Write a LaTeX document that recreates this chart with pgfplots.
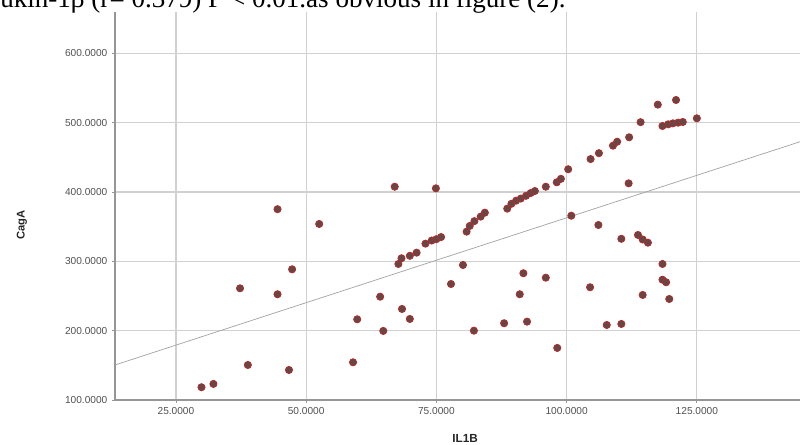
\documentclass[border=0pt]{standalone}
\usepackage{fontspec}
\setmainfont{Liberation Sans}
\newfontfamily\timesfont{Liberation Serif}
\usepackage{pgfplots}
\pgfplotsset{compat=1.18}
\definecolor{gridc}{RGB}{208,208,208}
\definecolor{axc}{RGB}{150,150,150}
\definecolor{regc}{RGB}{165,165,165}
\definecolor{tickc}{RGB}{80,80,80}
\definecolor{mfill}{RGB}{105,70,70}
\definecolor{medge}{RGB}{175,45,45}
\begin{document}
\begin{tikzpicture}
\useasboundingbox (0pt,0pt) rectangle (600pt,333pt);
\node[anchor=base west, inner sep=0pt, font=\timesfont\fontsize{20.3}{24}\selectfont] at (0pt,327.4pt) {ukin-1β (r= 0.379) P < 0.01.as obvious in figure (2).};
\begin{axis}[
  at={(86.25pt,33pt)}, anchor=south west,
  scale only axis, width=513.75pt, height=291pt,
  xmin=13.3, xmax=144.8, ymin=100, ymax=659.6,
  axis lines=left,
  axis line style={-, draw=axc, line width=0.9pt},
  every outer x axis line/.append style={-},
  every outer y axis line/.append style={-},
  xtick={25,50,75,100,125},
  ytick={100,200,300,400,500,600},
  grid=major,
  major grid style={draw=gridc, line width=0.9pt},
  tick align=outside,
  major tick length=2.2pt,
  tick style={draw=axc, line width=0.6pt},
  /pgf/number format/.cd, fixed, fixed zerofill, precision=4, 1000 sep={}, assume math mode=true,
  /pgfplots/.cd,
  tick label style={font=\fontsize{7.6}{9}\selectfont, text=tickc},
  xlabel={\textbf{IL1B}},
  ylabel={\textbf{CagA}},
  xlabel style={font=\fontsize{8.8}{10}\selectfont, text=black!85, at={(axis description cs:0.511,0)}, anchor=north, yshift=-22pt},
  ylabel style={font=\fontsize{8.4}{10}\selectfont, text=black!85, at={(axis description cs:-0.1358,0.451)}, anchor=center},
  clip=false,
]
\addplot[regc, line width=0.55pt] coordinates {(13.3,150.5) (144.8,472.5)};
\addplot[only marks, mark=*, mark size=2.7pt, mark options={draw=medge, fill=mfill, line width=0.6pt}] coordinates {
(29.9,118.4) (32.2,123.2) (37.3,261.1) (38.8,150.5) (44.5,375.2) (44.5,252.5)
(46.7,143.3) (47.3,288.5) (52.5,353.9) (59.0,154.4) (59.8,216.4) (64.2,249.0)
(64.8,199.6) (67.0,407.6) (68.4,231.3) (69.9,216.9) (74.9,405.3) (77.8,267.3)
(80.1,294.7) (82.2,200.0) (88.0,210.7) (91.0,252.5) (91.7,282.8) (92.4,213.0)
(96.0,276.4) (98.2,175.1) (100.9,365.8) (104.5,262.6) (106.1,352.4) (107.7,208.2)
(110.5,209.7) (110.5,332.5) (111.9,412.5) (113.7,338.0) (114.6,331.5) (115.6,326.9)
(114.6,251.5) (118.4,296.2) (118.4,273.5) (119.1,269.8) (119.7,245.7)
(67.7,296.2) (68.3,304.4) (69.9,308.0) (71.2,312.5) (72.9,325.5) (74.1,330.0)
(75.0,332.0) (75.9,335.0) (80.8,342.8) (81.4,351.0) (82.3,358.0) (83.5,364.5)
(84.3,370.2) (88.6,376.0) (89.4,383.0) (90.3,387.5) (91.2,390.5) (92.2,394.5)
(93.1,398.5) (93.9,401.4) (96.0,407.6) (98.1,414.0) (98.9,419.0) (100.3,432.8)
(104.6,447.5) (106.2,456.0) (108.9,466.8) (109.7,472.5) (112.0,478.9) (114.2,500.7)
(117.5,526.0) (121.0,532.7) (118.4,495.2) (119.5,497.6) (120.4,499.0) (121.4,500.0)
(122.3,501.0) (125.0,506.3)
};
\end{axis}
\end{tikzpicture}
\end{document}
